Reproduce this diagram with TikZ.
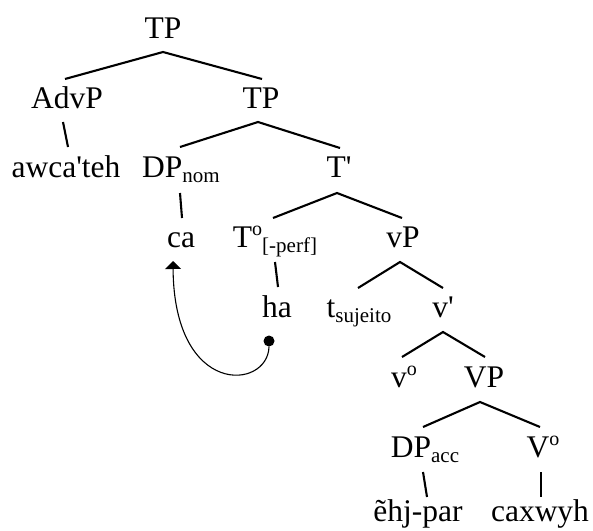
\documentclass[tikz,border=0pt]{standalone}
\usepackage{fontspec}
\setmainfont{Liberation Serif}
\usetikzlibrary{arrows.meta}
\newcommand\sbx[1]{\raisebox{-5pt}{\fontsize{21}{24}\selectfont #1}}
\newcommand\spo{\raisebox{12pt}{\fontsize{20}{24}\selectfont o}}
\newcommand\apo{\textquotesingle}
\begin{document}
\begin{tikzpicture}[x=1pt,y=-1pt,
  tn/.style={anchor=base,inner sep=0pt,font=\fontsize{31.5}{36}\selectfont},
  br/.style={line width=2.1pt},
  mv/.style={line width=1.1pt,-{Triangle[width=16pt,length=8pt]}}]
\useasboundingbox (0,0) rectangle (593,530);
\node[tn] (tp1) at (163,38) {TP};
\node[tn] (advp) at (67,108) {AdvP};
\node[tn] (tp2) at (261,108) {TP};
\node[tn] (awca) at (66,177) {awca\apo teh};
\node[tn] (dpnom) at (181,177) {DP\sbx{nom}};
\node[tn] (tbar) at (339,177) {T\apo};
\node[tn] (ca) at (181,247) {ca};
\node[tn] (t0) at (275,247) {T\spo\sbx{[-perf]}};
\node[tn] (vp) at (403,247) {vP};
\node[tn] (ha) at (277,317) {ha};
\node[tn] (tsuj) at (359,317) {t\sbx{sujeito}};
\node[tn] (vbar) at (443,317) {v\apo};
\node[tn] (v0) at (404,387) {v\spo};
\node[tn] (VP) at (484,387) {VP};
\node[tn] (dpacc) at (425,457) {DP\sbx{acc}};
\node[tn] (V0) at (543,457) {V\spo};
\node[tn] (ehj) at (418,521) {ẽhj-par};
\node[tn] (cax) at (540,521) {caxwyh};
% branches
\draw[br] ([xshift=-2pt,yshift=29pt]advp.base) -- ([yshift=-14pt]tp1.base) -- ([xshift=1pt,yshift=29pt]tp2.base);
\draw[br] ([xshift=-1pt,yshift=30pt]dpnom.base) -- ([xshift=-3pt,yshift=-14pt]tp2.base) -- ([xshift=1pt,yshift=29pt]tbar.base);
\draw[br] ([xshift=-2pt,yshift=29pt]t0.base) -- ([xshift=-2pt,yshift=-16pt]tbar.base) -- ([xshift=-1pt,yshift=29pt]vp.base);
\draw[br] ([xshift=-1pt,yshift=29pt]tsuj.base) -- ([xshift=-3pt,yshift=-15pt]vp.base) -- ([yshift=29pt]vbar.base);
\draw[br] ([xshift=-2pt,yshift=30pt]v0.base) -- ([yshift=-15pt]vbar.base) -- ([xshift=1pt,yshift=30pt]VP.base);
\draw[br] ([xshift=-2pt,yshift=30pt]dpacc.base) -- ([xshift=-4pt,yshift=-15pt]VP.base) -- ([xshift=-3pt,yshift=30pt]V0.base);
% unary
\draw[br] ([xshift=-4pt,yshift=-14pt]advp.base) -- ([xshift=2pt,yshift=30pt]awca.base);
\draw[br] ([xshift=-1pt,yshift=-16pt]dpnom.base) -- ([xshift=1pt,yshift=29pt]ca.base);
\draw[br] ([xshift=0pt,yshift=-15pt]t0.base) -- ([xshift=1pt,yshift=30pt]ha.base);
\draw[br] ([xshift=-2pt,yshift=-15pt]dpacc.base) -- ([xshift=9pt,yshift=24pt]ehj.base);
\draw[br] ([xshift=-2pt,yshift=-15pt]V0.base) -- ([xshift=1pt,yshift=24pt]cax.base);
% movement
\node[circle,fill,inner sep=0pt,minimum size=11pt] (dot) at (269,341) {};
\coordinate (tip) at (173,261);
\draw[mv] (dot.south) .. controls (268,390) and (174,398) .. (tip);
\end{tikzpicture}
\end{document}
